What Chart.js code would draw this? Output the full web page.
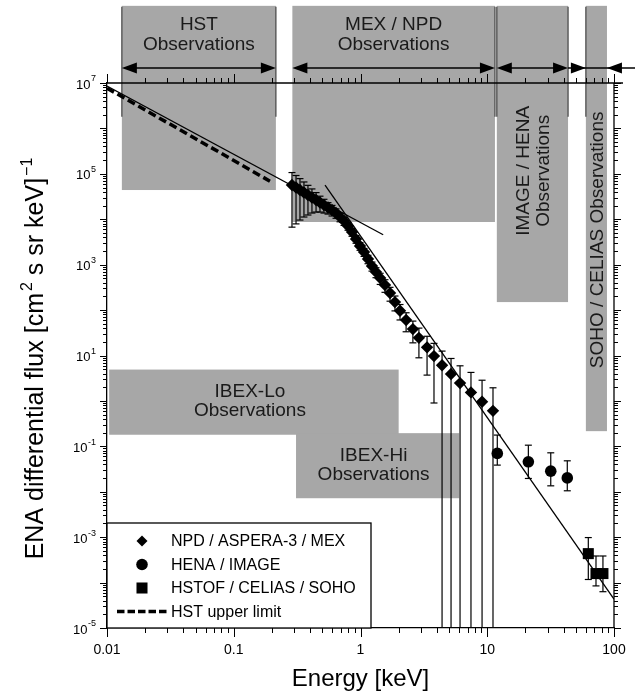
<!DOCTYPE html>
<html>
<head>
<meta charset="utf-8">
<script src="https://cdn.jsdelivr.net/npm/chart.js@4.4.0/dist/chart.umd.min.js"></script>
<style>
  html, body { margin: 0; padding: 0; background: #fff; }
</style>
</head>
<body>
<canvas id="chart" width="641" height="698"></canvas>
<script>
var F = "'Liberation Sans', Arial, Helvetica, sans-serif";

// NPD / ASPERA-3 / MEX  (energy keV, flux, 1-sigma)
var npdEnergy = [0.288, 0.310, 0.333, 0.358, 0.385, 0.414, 0.446, 0.479, 0.515, 0.554,
                 0.596, 0.641, 0.689, 0.741, 0.797, 0.857, 0.922, 0.991, 1.066, 1.146,
                 1.232, 1.325, 1.43, 1.56, 1.71, 1.87, 2.05, 2.29, 2.59, 2.89,
                 3.35, 3.80, 4.40, 5.18, 6.10, 7.44, 9.10, 11.1];
var npdFlux = [5.67e4, 4.99e4, 4.40e4, 3.87e4, 3.41e4, 3.01e4, 2.65e4, 2.33e4, 2.06e4, 1.81e4,
               1.60e4, 1.37e4, 1.12e4, 9.12e3, 7.08e3, 5.22e3, 3.66e3, 2.57e3, 1.90e3, 1.33e3,
               931, 687, 507, 356, 237, 150, 96.6, 60.3, 38.1, 24.5,
               15.1, 9.7, 6.1, 3.9, 2.47, 1.54, 0.955, 0.605];
var npdSigma = [5.0e4, 4.2e4, 3.44e4, 2.75e4, 2.17e4, 1.64e4, 1.21e4, 8.9e3, 6.9e3, 5.1e3,
                4.2e3, 3.2e3, 2.4e3, 1.8e3, 1.35e3, 1.0e3, 700, 500, 380, 280,
                210, 170, 140, 110, 80, 54, 36, 27, 19.1, 15.6,
                11.4, 8.8, 6.4, 4.7, 3.46, 2.7, 1.9, 1.34];

// HENA / IMAGE
var henaEnergy = [12.0, 21.1, 31.7, 42.8];
var henaFlux = [0.0698, 0.0456, 0.0284, 0.0202];
var henaLow = [0.0386, 0.0196, 0.0135, 0.0105];
var henaHigh = [0.177, 0.106, 0.072, 0.048];

// HSTOF / CELIAS / SOHO
var hstofEnergy = [62.7, 72.1, 81.8];
var hstofFlux = [4.34e-4, 1.58e-4, 1.58e-4];
var hstofLow = [1.17e-4, 8.45e-5, 6.3e-5];
var hstofHigh = [9.8e-4, 3.85e-4, 3.85e-4];

// HST upper limit (dashed)
var hstEnergy = [0.01, 0.193];
var hstFlux = [7.7e6, 6.9e4];

// power laws
var fitLowEnergy = [0.01, 1.51];
var fitLowFlux = [8.6e6, 4.55e3];
var fitHighEnergy = [0.525, 100];
var fitHighFlux = [5.66e4, 4.3e-5];

// observation ranges above the plot
var instName = [['HST', 'Observations'], ['MEX / NPD', 'Observations'],
                ['IMAGE / HENA', 'Observations'], ['SOHO / CELIAS Observations']];
var instLow = [0.0131, 0.29, 11.9, 60];
var instHigh = [0.215, 11.5, 43.4, 88];
var instFluxTop = [5e8, 5e8, 5e8, 5e8];
var instFluxBottom = [4.4e4, 8.7e3, 150, 0.216];
var rangeMarkFlux = 1.8e6;

// IBEX ranges
var ibexName = [['IBEX-Lo', 'Observations'], ['IBEX-Hi', 'Observations']];
var ibexLow = [0.0104, 0.31];
var ibexHigh = [2.0, 6.0];
var ibexFluxLow = [0.18, 0.0072];
var ibexFluxHigh = [4.9, 0.195];

// axes
var xTickValues = [0.01, 0.1, 1, 10, 100];
var xTickLabels = ['0.01', '0.1', '1', '10', '100'];
var yTickExps = [7, 5, 3, 1, -1, -3, -5];

function pts(xs, ys) {
  return xs.map(function (x, i) { return {x: x, y: ys[i]}; });
}

function logTicks(min, max) {
  var out = [];
  for (var e = Math.round(Math.log10(min)); e < Math.round(Math.log10(max)); e++) {
    for (var k = 1; k < 10; k++) out.push({v: k * Math.pow(10, e), major: k === 1});
  }
  out.push({v: max, major: true});
  return out;
}

function line(ctx, x1, y1, x2, y2) {
  ctx.beginPath(); ctx.moveTo(x1, y1); ctx.lineTo(x2, y2); ctx.stroke();
}

function head(ctx, tip, y, dir) {
  ctx.beginPath();
  ctx.moveTo(tip, y);
  ctx.lineTo(tip - dir * 15, y - 5.5);
  ctx.lineTo(tip - dir * 15, y + 5.5);
  ctx.closePath();
  ctx.fill();
}

var overlay = {
  id: 'overlay',
  beforeDatasetsDraw: function (chart) {
    var ctx = chart.ctx, a = chart.chartArea, xs = chart.scales.x, ys = chart.scales.y;
    var X = function (v) { return xs.getPixelForValue(v); };
    var Y = function (v) { return ys.getPixelForValue(v); };
    var i, j;
    ctx.save();

    // gray ranges
    ctx.fillStyle = '#a7a7a7';
    for (i = 0; i < instName.length; i++) {
      ctx.fillRect(X(instLow[i]), Y(instFluxTop[i]), X(instHigh[i]) - X(instLow[i]),
                   Y(instFluxBottom[i]) - Y(instFluxTop[i]));
    }
    for (i = 0; i < ibexName.length; i++) {
      ctx.fillRect(X(ibexLow[i]), Y(ibexFluxHigh[i]), X(ibexHigh[i]) - X(ibexLow[i]),
                   Y(ibexFluxLow[i]) - Y(ibexFluxHigh[i]));
    }

    // range delimiters
    ctx.strokeStyle = '#4d4d4d';
    ctx.lineWidth = 1.3;
    var marks = [instLow[0], instHigh[0], instHigh[1], instLow[2], instHigh[2], instLow[3]];
    marks.forEach(function (e) {
      var px = X(e);
      line(ctx, px, Y(instFluxTop[0]) + 1, px, Y(rangeMarkFlux));
    });

    // labels in ranges
    ctx.fillStyle = '#1a1a1a';
    ctx.font = '19px ' + F;
    ctx.textAlign = 'center';
    ctx.textBaseline = 'middle';
    for (i = 0; i < 2; i++) {
      var cx = (X(instLow[i]) + X(instHigh[i])) / 2, top = Y(instFluxTop[i]);
      ctx.fillText(instName[i][0], cx, top + 19);
      ctx.fillText(instName[i][1], cx, top + 39);
    }
    var rot = [{i: 2, dy: 165}, {i: 3, dy: 234}];
    rot.forEach(function (r) {
      var k = r.i, n = instName[k].length;
      var cx = (X(instLow[k]) + X(instHigh[k])) / 2 + 1;
      ctx.save();
      ctx.translate(cx, Y(instFluxTop[k]) + r.dy);
      ctx.rotate(-Math.PI / 2);
      for (j = 0; j < n; j++) ctx.fillText(instName[k][j], 0, (j - (n - 1) / 2) * 20);
      ctx.restore();
    });
    for (i = 0; i < ibexName.length; i++) {
      var bx = (X(ibexLow[i]) + X(ibexHigh[i])) / 2 - 4;
      var by = (Y(ibexFluxLow[i]) + Y(ibexFluxHigh[i])) / 2;
      ctx.fillText(ibexName[i][0], bx, by - 10);
      ctx.fillText(ibexName[i][1], bx, by + 9);
    }

    // arrows row
    ctx.strokeStyle = '#000';
    ctx.fillStyle = '#000';
    ctx.lineWidth = 1.5;
    var ay = a.top - 15;
    for (i = 0; i < 3; i++) {
      var l = X(instLow[i]), r2 = X(instHigh[i]);
      line(ctx, l + 5, ay, r2 - 5, ay);
      head(ctx, l, ay, -1);
      head(ctx, r2, ay, 1);
    }
    var sl = X(instLow[3]), sh = X(instHigh[3]);
    line(ctx, X(instHigh[2]), ay, a.right + 21, ay);
    head(ctx, sl, ay, 1);
    head(ctx, sh, ay, -1);

    // error bars
    ctx.save();
    ctx.beginPath();
    ctx.rect(a.left, a.top, a.right - a.left, a.bottom - a.top);
    ctx.clip();
    ctx.lineWidth = 1.2;
    chart.data.datasets.forEach(function (ds) {
      if (!ds.errLow) return;
      ds.data.forEach(function (p, k) {
        var px = X(p.x), lo = ds.errLow[k], hi = ds.errHigh[k];
        var yh = Y(hi), yl = lo > 0 ? Y(lo) : a.bottom + 2;
        line(ctx, px, yh, px, yl);
        line(ctx, px - 3.5, yh, px + 3.5, yh);
        if (lo > 0) line(ctx, px - 3.5, yl, px + 3.5, yl);
      });
    });
    ctx.restore();
    ctx.restore();
  },

  afterDatasetsDraw: function (chart) {
    var ctx = chart.ctx, a = chart.chartArea, xs = chart.scales.x, ys = chart.scales.y;
    var X = function (v) { return xs.getPixelForValue(v); };
    var Y = function (v) { return ys.getPixelForValue(v); };
    ctx.save();
    ctx.strokeStyle = '#000';
    ctx.fillStyle = '#000';
    ctx.lineWidth = 1.3;

    // top and right axis lines
    line(ctx, a.left, a.top, a.right + 9, a.top);
    line(ctx, a.right, a.top, a.right, a.bottom);

    // tick marks
    ctx.lineWidth = 1;
    logTicks(0.01, 100).forEach(function (t) {
      var px = Math.round(X(t.v)) + 0.5, L = t.major ? 9 : 5;
      line(ctx, px, a.bottom, px, a.bottom + L);
      line(ctx, px, a.top, px, a.top - L);
    });
    logTicks(1e-5, 1e7).forEach(function (t) {
      var py = Math.round(Y(t.v)) + 0.5, L = t.major ? 7 : 4;
      line(ctx, a.left - L, py, a.left, py);
      line(ctx, a.right, py, a.right + L, py);
    });

    // y tick labels 10^n
    ctx.textBaseline = 'middle';
    ctx.textAlign = 'left';
    yTickExps.forEach(function (p) {
      var py = Y(Math.pow(10, p)), s = String(p);
      ctx.font = '9px ' + F;
      var w2 = ctx.measureText(s).width;
      ctx.font = '13px ' + F;
      var w1 = ctx.measureText('10').width;
      var xr = a.left - 11;
      ctx.fillText('10', xr - w1 - w2 - 0.5, py + 2);
      ctx.font = '9px ' + F;
      ctx.fillText(s, xr - w2, py - 4);
    });

    // y title with superscripts
    var parts = [['ENA differential flux [cm', 0], ['2', 1], [' s sr keV]', 0], ['\u22121', 1]];
    var total = 0;
    parts.forEach(function (p) {
      ctx.font = (p[1] ? '16px ' : '25px ') + F;
      total += ctx.measureText(p[0]).width + (p[1] ? 2 : 0);
    });
    ctx.save();
    ctx.translate(43, (a.top + a.bottom) / 2 + 3);
    ctx.rotate(-Math.PI / 2);
    ctx.textBaseline = 'alphabetic';
    var cx = -total / 2;
    parts.forEach(function (p) {
      ctx.font = (p[1] ? '16px ' : '25px ') + F;
      if (p[1]) cx += 2;
      ctx.fillText(p[0], cx, p[1] ? -11 : 0);
      cx += ctx.measureText(p[0]).width;
    });
    ctx.restore();

    // legend
    var lx = a.left, lw = 264, lh = 105, ly = a.bottom - lh;
    ctx.fillStyle = '#fff';
    ctx.fillRect(lx, ly, lw, lh);
    ctx.lineWidth = 1.3;
    ctx.strokeRect(lx, ly, lw, lh);
    ctx.fillStyle = '#000';
    ctx.font = '16px ' + F;
    ctx.textBaseline = 'middle';
    ctx.textAlign = 'left';
    var rows = chart.data.datasets.filter(function (d) { return d.inLegend; });
    rows.forEach(function (d, k) {
      var ry = ly + 18 + k * 23.5;
      if (d.showLine) {
        ctx.save();
        ctx.lineWidth = d.borderWidth;
        ctx.setLineDash([7.5, 3]);
        line(ctx, lx + 10, ry, lx + 60, ry);
        ctx.restore();
      } else {
        ctx.fillStyle = '#000';
        var rad = d.pointStyle === 'rectRot' ? 5.5 : d.pointRadius;
        Chart.helpers.drawPoint(ctx, {pointStyle: d.pointStyle, radius: rad, rotation: 0, borderWidth: 0}, lx + 35, ry);
      }
      ctx.fillText(d.label, lx + 64, ry + 1);
    });
    ctx.restore();
  }
};

Chart.defaults.font.family = F;
Chart.defaults.color = '#000';

var chart = new Chart(document.getElementById('chart'), {
  type: 'scatter',
  data: {
    datasets: [
      {
        label: 'NPD / ASPERA-3 / MEX', inLegend: true,
        data: pts(npdEnergy, npdFlux),
        errLow: npdFlux.map(function (v, i) { return v - npdSigma[i]; }),
        errHigh: npdFlux.map(function (v, i) { return v + npdSigma[i]; }),
        pointStyle: 'rectRot', pointRadius: 6.2, borderWidth: 0,
        backgroundColor: '#000', borderColor: '#000'
      },
      {
        label: 'HENA / IMAGE', inLegend: true,
        data: pts(henaEnergy, henaFlux), errLow: henaLow, errHigh: henaHigh,
        pointStyle: 'circle', pointRadius: 5.8, borderWidth: 0,
        backgroundColor: '#000', borderColor: '#000'
      },
      {
        label: 'HSTOF / CELIAS / SOHO', inLegend: true,
        data: pts(hstofEnergy, hstofFlux), errLow: hstofLow, errHigh: hstofHigh,
        pointStyle: 'rect', pointRadius: 7.8, borderWidth: 0,
        backgroundColor: '#000', borderColor: '#000'
      },
      {
        label: 'HST upper limit', inLegend: true,
        data: pts(hstEnergy, hstFlux), showLine: true,
        borderColor: '#000', borderWidth: 3.5, borderDash: [8, 4], pointRadius: 0
      },
      {
        label: 'power law (low energy)',
        data: pts(fitLowEnergy, fitLowFlux), showLine: true,
        borderColor: '#000', borderWidth: 1.3, pointRadius: 0
      },
      {
        label: 'power law (high energy)',
        data: pts(fitHighEnergy, fitHighFlux), showLine: true,
        borderColor: '#000', borderWidth: 1.3, pointRadius: 0
      }
    ]
  },
  options: {
    responsive: false,
    animation: false,
    layout: { padding: { top: 83, right: 27, left: 0, bottom: 0 } },
    plugins: { legend: { display: false }, tooltip: { enabled: false } },
    scales: {
      x: {
        type: 'logarithmic', min: 0.01, max: 100,
        afterFit: function (s) { s.height = 70; },
        afterBuildTicks: function (s) { s.ticks = xTickValues.map(function (v) { return {value: v}; }); },
        ticks: {
          autoSkip: false, maxRotation: 0, padding: 14, color: '#000',
          font: { size: 14 },
          callback: function (v, i) { return xTickLabels[i]; }
        },
        grid: { display: false, drawTicks: false },
        border: { display: true, color: '#000', width: 1.3 },
        title: { display: true, text: 'Energy [keV]', color: '#000', font: { size: 24 }, padding: { top: 0, bottom: 4 } }
      },
      y: {
        type: 'logarithmic', min: 1e-5, max: 1e7,
        afterFit: function (s) { s.width = 107; },
        ticks: { display: false },
        grid: { display: false, drawTicks: false },
        border: { display: true, color: '#000', width: 1.3 }
      }
    }
  },
  plugins: [overlay]
});
</script>
</body>
</html>
